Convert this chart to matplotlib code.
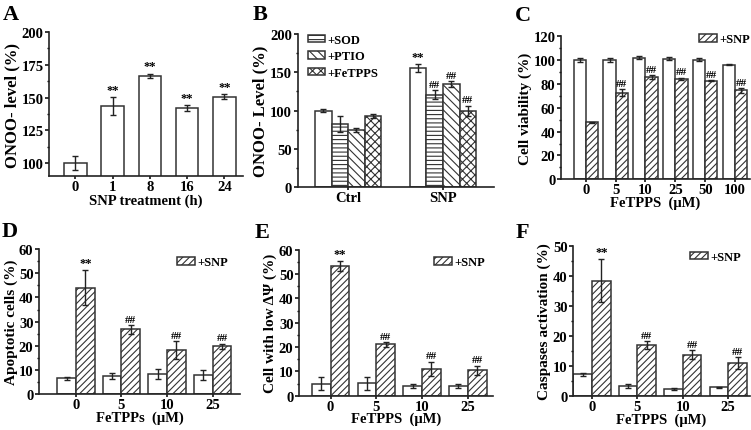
import numpy as np
import matplotlib
matplotlib.use("Agg")
import matplotlib.pyplot as plt
from matplotlib.ticker import MultipleLocator

plt.rcParams['font.family'] = ['Liberation Serif', 'DejaVu Serif']
plt.rcParams['font.weight'] = 'bold'
plt.rcParams['axes.labelweight'] = 'bold'
plt.rcParams['hatch.linewidth'] = 0.8
plt.rcParams['hatch.color'] = '#333333'

# ---------------- data ----------------
A_labels = ['0', '1', '8', '16', '24']
A_vals = [100, 143.4, 166.8, 141.9, 150.8]
A_err = [5.5, 7.0, 1.5, 2.2, 1.9]
A_marks = ['', '**', '**', '**', '**']

B_groups = ['Ctrl', 'SNP']
B_series = ['', '+SOD', '+PTIO', '+FeTPPS']
B_plain = [100, 155.2]
B_plain_err = [2.2, 5.2]
B_sod = [82.6, 120.9]
B_sod_err = [10.0, 6.0]
B_ptio = [74.8, 134.8]
B_ptio_err = [3.0, 3.3]
B_fetpps = [92.6, 100.0]
B_fetpps_err = [2.5, 6.5]
B_marks = [['', '', '', ''], ['**', '##', '##', '##']]

C_labels = ['0', '5', '10', '25', '50', '100']
C_ctrl = [100, 100, 102, 101.1, 100.3, 96.1]
C_ctrl_err = [1.8, 1.8, 1.5, 1.0, 1.2, 0.5]
C_snp = [47.8, 72.6, 85.5, 84.4, 82.7, 74.6]
C_snp_err = [0.3, 3.0, 1.8, 0.8, 0.6, 2.0]
C_marks = ['', '##', '##', '##', '##', '##']

D_labels = ['0', '5', '10', '25']
D_ctrl = [6.6, 7.6, 8.4, 8.0]
D_ctrl_err = [0.5, 1.2, 2.2, 2.1]
D_snp = [44.0, 26.8, 18.2, 19.8]
D_snp_err = [7.2, 1.8, 3.8, 1.1]

E_labels = ['0', '5', '10', '25']
E_ctrl = [5.0, 5.1, 4.0, 4.0]
E_ctrl_err = [2.8, 2.7, 0.9, 0.9]
E_snp = [53.3, 21.1, 11.0, 10.5]
E_snp_err = [1.9, 1.0, 2.9, 1.8]

F_labels = ['0', '5', '10', '25']
F_ctrl = [7.3, 3.5, 2.4, 3.0]
F_ctrl_err = [0.6, 0.6, 0.2, 0.2]
F_snp = [38.4, 17.0, 13.8, 11.1]
F_snp_err = [7.1, 1.3, 1.5, 1.9]

DEF_marks = ['**', '##', '##', '##']

EDGE = '#333333'
TICK_FS = 10.5
LABEL_FS = 10.5
YLABEL_FS = 11

fig = plt.figure(figsize=(7.51, 4.31), dpi=100)
W, H = 751, 431


def add_ax(left, right, top, bottom):
    return fig.add_axes([left / W, 1 - bottom / H, (right - left) / W, (bottom - top) / H])


def style(ax, ylim, major, minor, xlim):
    ax.set_ylim(*ylim)
    ax.set_xlim(*xlim)
    for s in ['top', 'right']:
        ax.spines[s].set_visible(False)
    for s in ['left', 'bottom']:
        ax.spines[s].set_linewidth(1.2)
        ax.spines[s].set_color('#222222')
    ax.yaxis.set_major_locator(MultipleLocator(major))
    ax.yaxis.set_minor_locator(MultipleLocator(minor))
    ax.tick_params(axis='y', which='major', direction='out', length=3, width=1.1,
                   labelsize=TICK_FS, pad=1)
    ax.tick_params(axis='x', which='major', direction='out', length=2.5, width=1.1,
                   labelsize=TICK_FS, pad=0.5)
    ax.tick_params(axis='y', which='minor', direction='out', length=1.8, width=1.0)
    for lab in ax.get_xticklabels() + ax.get_yticklabels():
        lab.set_fontweight('bold')


ekw = dict(elinewidth=1.0, capthick=1.0, ecolor='#222222')


def bars(ax, x, vals, err, width, hatch=None, label=None):
    return ax.bar(x, vals, width, color='white', edgecolor=EDGE, linewidth=1.1,
                  hatch=hatch, yerr=err, capsize=2.2, error_kw=ekw, label=label)


def marks(ax, x, vals, err, mk):
    for xi, v, e, m in zip(x, vals, err, mk):
        if not m:
            continue
        fs = 9 if m == '**' else 8
        ax.annotate(m, (xi, v + e), xytext=(0, 1.0), textcoords='offset points',
                    ha='center', va='bottom', fontsize=fs, fontweight='bold')


def panel_letter(x, y, s):
    fig.text(x / W, 1 - y / H, s, fontsize=16, fontweight='bold', ha='left', va='baseline')


# ---------------- A ----------------
ax = add_ax(49.3, 243, 33, 177.3)
xa = np.arange(len(A_labels))
bars(ax, xa, A_vals, A_err, 0.61)
marks(ax, xa, A_vals, A_err, A_marks)
style(ax, (90, 200), 25, 12.5, (-0.7, 4.5))
ax.set_xticks(xa)
ax.set_xticklabels(A_labels, fontweight='bold')
ax.set_xlabel('SNP treatment (h)', fontsize=LABEL_FS, labelpad=0)
ax.set_ylabel('ONOO- level (%)', fontsize=12, labelpad=1)
panel_letter(3, 20, 'A')

# ---------------- B ----------------
ax = add_ax(297.7, 494.3, 35, 188.3)
xb = np.arange(len(B_groups))
wb = 0.174
offs = (np.arange(4) - 1.5) * wb
bars(ax, xb + offs[0], B_plain, B_plain_err, wb)
bars(ax, xb + offs[1], B_sod, B_sod_err, wb, hatch='----', label=B_series[1])
bars(ax, xb + offs[2], B_ptio, B_ptio_err, wb, hatch='\\\\\\\\', label=B_series[2])
bars(ax, xb + offs[3], B_fetpps, B_fetpps_err, wb, hatch='xxxx', label=B_series[3])
series_vals = [B_plain, B_sod, B_ptio, B_fetpps]
series_err = [B_plain_err, B_sod_err, B_ptio_err, B_fetpps_err]
for gi in range(len(B_groups)):
    for si in range(4):
        marks(ax, [xb[gi] + offs[si]], [series_vals[si][gi]], [series_err[si][gi]],
              [B_marks[gi][si]])
style(ax, (0, 200), 50, 25, (-0.53, 1.54))
ax.set_xticks(xb)
ax.set_xticklabels(B_groups, fontweight='bold')
ax.set_ylabel('ONOO- Level (%)', fontsize=12, labelpad=1)
ax.legend(loc='upper left', bbox_to_anchor=(0.05, 1.0), frameon=False,
          handlelength=1.4, handleheight=0.55, handletextpad=0.2, labelspacing=0.35,
          borderaxespad=0, borderpad=0, prop={'weight': 'bold', 'size': 9})
panel_letter(253, 20, 'B')


def two_series(ax, labels, ctrl, ctrl_err, snp, snp_err, mk, w):
    x = np.arange(len(labels))
    bars(ax, x - w / 2, ctrl, ctrl_err, w)
    bars(ax, x + w / 2, snp, snp_err, w, hatch='/////', label='+SNP')
    marks(ax, x + w / 2, snp, snp_err, mk)
    ax.set_xticks(x)
    ax.set_xticklabels(labels, fontweight='bold')


def snp_legend(ax, xr, yt):
    ax.legend(loc='upper right', bbox_to_anchor=(xr, yt), frameon=False,
              handlelength=1.4, handleheight=0.55, handletextpad=0.2,
              borderaxespad=0, borderpad=0, prop={'weight': 'bold', 'size': 9})


# ---------------- C ----------------
ax = add_ax(561, 750, 37.1, 180.3)
two_series(ax, C_labels, C_ctrl, C_ctrl_err, C_snp, C_snp_err, C_marks, 0.41)
style(ax, (0, 120), 20, 10, (-0.83, 5.5))
ax.set_xlabel('FeTPPS  (\u03bcM)', fontsize=LABEL_FS, labelpad=-1)
ax.set_ylabel('Cell viability (%)', fontsize=YLABEL_FS, labelpad=1)
snp_legend(ax, 1.0, 1.02)
panel_letter(515, 21, 'C')

# ---------------- D ----------------
ax = add_ax(39, 240, 250, 395.3)
two_series(ax, D_labels, D_ctrl, D_ctrl_err, D_snp, D_snp_err, DEF_marks, 0.41)
style(ax, (0, 60), 10, 5, (-0.81, 3.6))
ax.set_xlabel('FeTPPs  (\u03bcM)', fontsize=LABEL_FS, labelpad=-1)
ax.set_ylabel('Apoptotic cells (%)', fontsize=YLABEL_FS, labelpad=0.5)
snp_legend(ax, 0.94, 0.95)
panel_letter(2, 237, 'D')

# ---------------- E ----------------
ax = add_ax(299, 493, 250.7, 396.7)
two_series(ax, E_labels, E_ctrl, E_ctrl_err, E_snp, E_snp_err, DEF_marks, 0.41)
style(ax, (0, 60), 10, 5, (-0.69, 3.55))
ax.set_xlabel('FeTPPS  (\u03bcM)', fontsize=LABEL_FS, labelpad=-1)
ax.set_ylabel('Cell with low \u0394\u03a8 (%)', fontsize=YLABEL_FS, labelpad=1)
snp_legend(ax, 0.96, 0.955)
panel_letter(255, 238, 'E')

# ---------------- F ----------------
ax = add_ax(573, 750, 246.7, 397.3)
two_series(ax, F_labels, F_ctrl, F_ctrl_err, F_snp, F_snp_err, DEF_marks, 0.41)
style(ax, (0, 50), 10, 5, (-0.42, 3.48))
ax.set_xlabel('FeTPPS  (\u03bcM)', fontsize=LABEL_FS, labelpad=-1)
ax.set_ylabel('Caspases activation (%)', fontsize=YLABEL_FS, labelpad=1)
snp_legend(ax, 0.95, 0.965)
panel_letter(516, 238, 'F')

fig.savefig('out.png', dpi=100)
